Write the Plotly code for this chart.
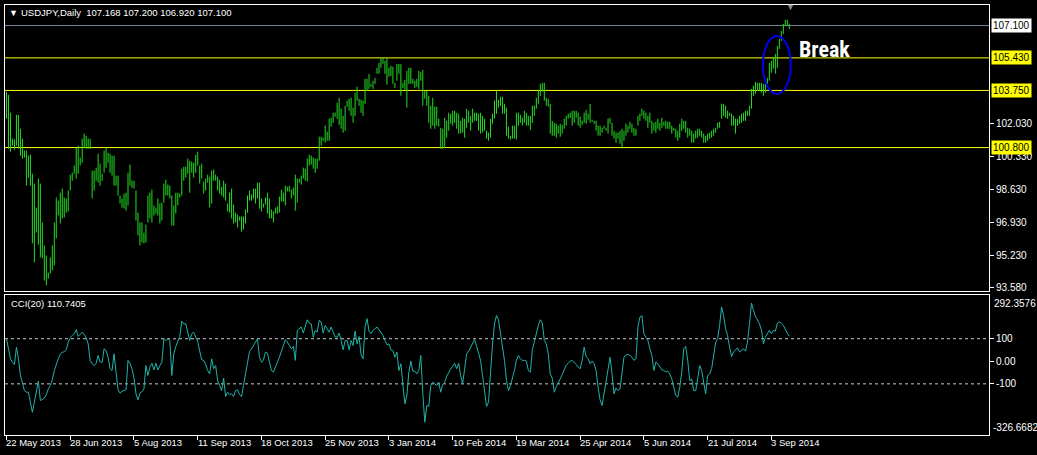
import plotly.graph_objects as go

# ---------------- data ----------------
high = [
103.68,103.52,102.60,101.26,101.21,102.49,102.49,101.77,101.26,100.64,
100.64,100.38,100.43,99.45,98.94,97.70,99.20,98.94,96.93,95.74,
95.23,94.35,95.13,95.74,96.93,98.22,98.06,98.47,98.68,98.22,
98.17,98.58,99.40,99.50,99.87,100.79,100.90,100.28,101.26,101.52,
101.41,101.26,101.26,99.61,99.61,99.76,100.48,99.97,99.45,100.64,
100.79,100.53,100.48,100.38,100.38,99.35,99.35,98.32,98.17,98.42,
98.47,99.50,99.92,99.09,99.09,98.58,97.44,96.93,96.93,96.41,
96.82,98.32,98.47,98.63,97.81,97.70,98.17,97.91,97.96,98.94,
99.14,98.89,98.83,98.32,97.81,98.47,98.47,98.42,99.71,99.81,
99.81,100.23,100.12,100.07,100.02,100.43,100.59,99.87,99.97,99.04,
99.20,99.40,99.30,99.61,99.66,99.40,99.30,99.14,98.78,99.09,
98.94,97.91,98.47,98.68,97.86,97.44,97.34,97.24,97.24,97.24,
97.60,98.32,98.58,98.37,98.68,98.68,98.99,98.99,98.17,97.91,
98.22,98.47,98.17,97.60,97.50,97.70,97.76,98.27,98.63,98.47,
98.83,98.78,98.83,98.63,98.73,99.40,99.20,99.20,99.35,99.76,
99.71,100.23,100.43,100.38,100.28,100.23,100.23,101.36,101.36,101.31,
101.93,101.62,102.29,102.34,102.60,102.60,103.11,103.37,102.81,102.44,
102.96,103.22,103.32,103.37,102.86,103.63,103.94,103.32,103.27,103.22,
104.35,104.35,104.61,104.09,104.25,104.40,104.92,105.17,105.43,105.43,
105.28,105.43,104.92,105.02,104.97,104.14,105.12,105.12,105.12,104.14,
104.30,104.76,104.92,104.92,104.35,104.25,104.35,104.76,104.71,104.81,
103.73,103.73,103.47,102.96,103.37,102.91,102.91,102.29,101.82,101.77,
102.34,102.18,102.60,102.55,102.70,102.70,102.60,102.55,102.18,102.34,
102.29,102.81,102.70,102.44,102.81,102.60,102.60,102.55,102.60,102.44,
102.29,101.67,101.57,102.29,102.55,103.22,103.73,103.27,103.42,103.42,
103.06,102.86,101.88,101.41,101.93,101.93,102.60,102.60,102.49,102.34,
102.70,102.60,102.44,102.44,102.96,102.96,103.37,103.73,104.09,104.14,
104.14,103.37,103.32,103.06,102.18,102.08,102.03,101.93,102.03,101.97,
102.29,102.44,102.55,102.60,102.70,102.70,102.70,102.60,102.39,102.18,
102.60,102.75,102.55,103.06,102.24,102.18,102.18,101.93,101.93,101.82,
101.93,101.82,102.29,102.34,102.08,101.67,101.57,101.57,101.67,101.77,
101.67,102.03,101.93,102.13,102.03,101.82,101.77,102.44,102.55,102.81,
102.70,102.60,102.44,102.60,102.18,102.08,102.13,102.29,102.08,102.34,
102.13,102.18,102.13,102.13,101.93,101.82,101.77,101.67,102.03,102.29,
102.18,102.18,101.82,101.77,101.67,101.52,101.67,101.77,101.77,101.67,
101.52,101.41,101.52,101.57,101.67,101.77,101.82,102.08,102.13,103.06,
103.06,102.96,102.70,102.60,102.55,102.44,102.29,102.29,102.44,102.55,
102.60,102.70,102.70,102.96,103.83,103.99,104.19,104.14,104.14,104.14,
104.09,104.09,104.40,105.17,105.28,105.43,105.64,106.05,106.41,106.82,
107.18,107.39,107.39,107.20,
]
low = [
102.29,100.74,100.59,100.90,100.69,100.90,100.74,100.38,100.23,100.28,
98.83,99.25,98.83,95.85,94.87,96.41,95.79,95.13,95.08,93.94,
93.68,94.04,94.30,94.46,94.71,96.11,97.29,96.88,97.14,97.19,
97.44,97.50,98.58,99.09,99.45,99.20,99.45,99.87,100.02,100.79,
100.74,100.74,100.74,98.17,98.58,99.09,98.99,98.83,99.09,99.50,
99.76,100.02,99.50,99.35,98.83,98.83,98.32,97.91,97.70,97.65,
97.55,97.81,98.83,98.73,98.68,97.03,96.26,95.74,95.90,95.85,
95.90,96.93,97.14,96.93,97.29,97.39,97.29,96.88,97.03,97.96,
98.32,98.32,98.17,96.77,96.77,97.39,97.81,98.22,98.32,99.09,
99.25,99.45,98.47,99.50,99.25,99.50,99.87,98.94,99.20,98.42,
98.58,98.99,97.70,97.91,99.09,99.09,98.58,98.42,98.32,98.22,
98.06,97.50,97.44,97.14,96.88,96.93,96.67,97.03,96.46,96.57,
96.88,97.44,98.06,98.06,98.17,97.91,98.17,97.65,97.50,97.70,
97.86,97.39,97.14,97.14,96.93,97.39,97.39,97.44,98.01,98.01,
97.81,98.53,98.53,98.17,98.32,97.55,97.96,98.99,98.89,99.20,
99.09,99.04,99.87,99.92,99.71,99.50,99.71,100.12,100.90,101.15,
101.05,101.15,101.15,101.88,102.08,102.39,102.29,101.97,101.77,101.57,
101.67,102.91,102.70,102.44,102.08,102.44,103.22,102.96,102.60,102.44,
103.06,103.73,103.83,103.94,103.83,104.09,104.61,104.61,104.92,105.12,
104.61,104.04,104.45,104.50,104.09,103.88,104.25,104.61,103.47,103.88,
103.78,102.86,104.09,104.09,104.09,103.88,103.94,103.83,104.25,102.96,
103.32,102.96,102.08,101.77,101.93,101.77,101.93,101.88,100.74,100.74,
100.79,101.31,101.67,102.03,101.93,102.08,101.77,101.52,101.52,101.57,
101.31,101.82,102.08,101.67,102.08,102.18,102.18,101.67,101.52,101.57,
101.67,101.26,101.15,101.31,102.03,102.29,102.55,102.86,102.96,102.55,
102.55,101.41,101.26,101.21,101.26,101.26,101.21,101.93,102.08,101.93,
102.08,101.93,101.93,101.72,102.08,102.44,102.81,103.06,103.47,103.68,
103.22,102.96,102.91,101.52,101.41,101.41,101.31,101.52,101.36,101.52,
101.77,101.93,102.29,102.34,101.93,102.08,102.34,101.93,101.82,101.97,
102.08,102.03,102.24,102.08,102.13,102.03,101.67,101.41,101.41,101.57,
101.77,101.67,101.52,102.03,101.41,101.26,101.05,101.26,101.00,100.74,
101.15,101.41,101.57,101.77,101.57,101.41,101.41,101.93,102.18,102.44,
102.29,102.18,101.82,102.08,101.52,101.67,101.57,101.77,101.67,101.82,
101.93,101.77,101.77,101.77,101.52,101.67,101.31,101.15,101.31,101.67,
101.77,101.57,101.31,101.41,101.05,101.05,101.26,101.31,101.41,101.31,
101.05,101.05,101.15,101.26,101.31,101.41,101.57,101.77,101.82,102.29,
102.44,102.34,102.29,102.44,101.93,101.93,101.52,101.93,102.03,102.08,
102.18,102.18,102.44,102.44,102.81,103.47,103.58,103.73,103.73,103.63,
103.47,103.63,104.09,104.25,104.66,104.87,104.61,104.92,105.89,106.31,
106.67,107.08,107.08,106.92,
]
cci = [
100,55,11,-4,-14,63,11,-63,-103,-130,
-137,-137,-181,-226,-181,-130,-88,-174,-167,-163,
-148,-122,-107,-82,-41,-11,11,30,41,41,
51,85,104,115,122,140,110,119,129,119,
104,77,4,-11,-19,-9,26,-4,-4,55,
48,18,-33,-41,33,-48,-126,-141,-133,-130,
-126,4,-9,-33,-74,-144,-171,-141,-134,-122,
-19,-63,-26,-9,-38,-9,-38,-19,-4,100,
92,100,92,-63,33,66,89,110,178,166,
166,122,92,122,129,107,89,45,7,4,
-14,-41,-56,11,-33,-19,-85,-107,-130,-74,
-156,-137,-148,-144,-156,-130,-126,-148,-156,-107,
-56,11,44,55,70,85,100,18,-4,4,
41,36,-4,-41,-48,-29,-4,18,48,73,
96,85,70,55,66,4,137,144,152,125,
159,184,169,166,107,137,129,181,174,125,
159,144,129,152,129,107,107,125,92,51,
92,92,51,92,70,134,77,110,30,11,
152,189,134,122,137,147,152,140,125,115,
92,73,77,51,48,18,41,-41,-11,-93,
-189,-152,-48,1,-44,-44,-56,-41,26,-144,
-270,-196,-200,-107,-93,-100,-107,-93,-137,-103,
-93,-67,-48,-33,-23,-9,-33,-9,-63,-100,
-33,33,45,63,80,96,66,33,4,-63,
-130,-200,-181,-41,77,166,203,184,122,63,
4,-85,-130,-107,-78,-41,4,26,11,4,
4,1,-41,-48,51,92,129,159,184,169,
92,77,33,-56,-75,-137,-112,-97,-78,-59,
-41,-17,-9,1,4,-4,-14,-26,-33,4,
63,21,11,-11,1,-11,-41,-115,-171,-196,
-144,-97,-41,18,-56,-144,-118,-130,-122,-63,
18,29,30,26,18,4,11,152,196,202,
122,107,92,55,26,-41,-4,-11,-26,-38,
-41,-47,-44,-56,-78,-115,-152,-159,-115,-48,
55,66,4,-85,-78,-130,-130,-78,-19,-41,
-93,-144,-63,-56,-33,33,82,100,159,241,
203,144,115,63,21,41,51,60,41,48,
55,45,85,166,258,226,199,184,166,140,
77,107,125,137,122,137,134,169,174,169,
159,140,125,110.74,
]

date_ticks = [0, 32, 64, 96, 128, 160, 192, 224, 256, 288, 320, 352, 384]
date_labels = ["22 May 2013", "28 Jun 2013", "5 Aug 2013", "11 Sep 2013",
               "18 Oct 2013", "25 Nov 2013", "3 Jan 2014", "10 Feb 2014",
               "19 Mar 2014", "25 Apr 2014", "5 Jun 2014", "21 Jul 2014",
               "3 Sep 2014"]
price_ticks = [102.03, 100.33, 98.63, 96.93, 95.23, 93.58]
price_range = [93.376, 108.161]
levels = [105.43, 103.75, 100.80]
last_price = 107.10
cci_levels = [100, -100]
cci_ticks = [100, 0, -100]
cci_tick_text = ["100", "0.00", "-100"]
cci_min, cci_max = -326.6682, 292.3576
header_symbol = "▼"
header_text = "USDJPY,Daily  107.168 107.200 106.920 107.100"
cci_text = "CCI(20) 110.7405"
break_text = "Break"
break_pos = (396.75, 105.87)
ellipse_box = (379.75, 393.75, 103.57, 106.56)

# ---------------- figure ----------------
n = len(high)
idx = list(range(n))
bx, by = [], []
for i, (h, l) in enumerate(zip(high, low)):
    bx += [i, i, None]
    by += [l, h, None]

BAR = "#22DD22"
FONT = "Tahoma, 'Liberation Sans', Arial, sans-serif"
fig = go.Figure()
fig.add_trace(go.Scatter(x=bx, y=by, mode="lines", line=dict(color=BAR, width=1),
                         xaxis="x", yaxis="y", hoverinfo="skip"))
fig.add_trace(go.Scatter(x=idx, y=cci, mode="lines", line=dict(color="#20B2AA", width=1),
                         xaxis="x2", yaxis="y2"))

xr = [-0.75, 493.25]
axis_common = dict(showgrid=False, zeroline=False, showline=True, mirror=True,
                   linecolor="white", linewidth=1)
fig.update_layout(
    width=1037, height=455,
    margin=dict(l=4, r=45, t=4, b=20),
    paper_bgcolor="black", plot_bgcolor="black",
    showlegend=False,
    font=dict(family=FONT, color="white", size=10),
    xaxis=dict(domain=[0, 1], range=xr, anchor="y", showticklabels=False, ticks="",
               **axis_common),
    xaxis2=dict(domain=[0, 1], range=xr, anchor="y2", showticklabels=False,
                tickvals=date_ticks, ticks="outside", ticklen=4, tickcolor="white",
                **axis_common),
    yaxis=dict(domain=[0.33411, 1], range=price_range, side="right", anchor="x",
               tickvals=price_ticks, ticktext=[f"{v:.3f}" for v in price_ticks],
               ticks="outside", ticklen=4, tickcolor="white",
               tickfont=dict(family=FONT, color="white", size=10), **axis_common),
    yaxis2=dict(domain=[0, 0.32483], range=[cci_min, cci_max], side="right", anchor="x2",
                tickvals=cci_ticks, ticktext=cci_tick_text,
                ticks="outside", ticklen=4, tickcolor="white",
                tickfont=dict(family=FONT, color="white", size=10), **axis_common),
)

shapes = []
for lv in levels:
    shapes.append(dict(type="line", xref="paper", x0=0, x1=1, yref="y", y0=lv, y1=lv,
                       line=dict(color="#FFFF00", width=1), layer="below"))
shapes.append(dict(type="line", xref="paper", x0=0, x1=1, yref="y", y0=last_price,
                   y1=last_price, line=dict(color="#778899", width=1), layer="below"))
for lv in cci_levels:
    shapes.append(dict(type="line", xref="paper", x0=0, x1=1, yref="y2", y0=lv, y1=lv,
                       line=dict(color="#C8C8C8", width=1, dash="3px,3px"), layer="below"))
x0e, x1e, y0e, y1e = ellipse_box
shapes.append(dict(type="circle", xref="x", yref="y", x0=x0e, x1=x1e, y0=y0e, y1=y1e,
                   line=dict(color="#0000F0", width=2)))
fig.update_layout(shapes=shapes)

ann = []
for lv in levels:
    ann.append(dict(xref="paper", x=1, xanchor="left", xshift=2, yref="y", y=lv,
                    yanchor="middle", text=f"{lv:.3f}", showarrow=False,
                    bgcolor="#FFFF00", borderpad=1,
                    font=dict(family=FONT, color="black", size=10)))
ann.append(dict(xref="paper", x=1, xanchor="left", xshift=2, yref="y", y=last_price,
                yanchor="middle", text=f"{last_price:.3f}", showarrow=False,
                bgcolor="white", borderpad=1,
                font=dict(family=FONT, color="black", size=10)))
ann.append(dict(xref="paper", x=1, xanchor="left", xshift=3, yref="y2", y=cci_max,
                yanchor="top", yshift=-1, text=f"{cci_max:.4f}", showarrow=False,
                font=dict(family=FONT, color="white", size=10)))
ann.append(dict(xref="paper", x=1, xanchor="left", xshift=2, yref="y2", y=cci_min,
                yanchor="bottom", yshift=0, text=f"{cci_min:.4f}", showarrow=False,
                font=dict(family=FONT, color="white", size=10)))
for t, lab in zip(date_ticks, date_labels):
    ann.append(dict(xref="x2", x=t, xanchor="left", xshift=-2, yref="paper", y=-0.0186,
                    yanchor="middle", text=lab, showarrow=False,
                    font=dict(family=FONT, color="white", size=9.5)))
ann.append(dict(xref="paper", x=0.0035, xanchor="left", xshift=-1, yref="paper", y=0.9814,
                yanchor="middle", text=header_symbol, showarrow=False,
                font=dict(family=FONT, color="white", size=9)))
ann.append(dict(xref="paper", x=0.0155, xanchor="left", xshift=-1, yref="paper", y=0.9814,
                yanchor="middle", text=header_text, showarrow=False,
                font=dict(family=FONT, color="white", size=9.5)))
ann.append(dict(xref="paper", x=0.004, xanchor="left", yref="paper", y=0.3063,
                yanchor="middle", text=cci_text, showarrow=False,
                font=dict(family=FONT, color="white", size=9.5)))
ann.append(dict(xref="x", x=break_pos[0], xanchor="left", yref="y", y=break_pos[1],
                yanchor="middle", text=f"<b>{break_text}</b>", showarrow=False,
                font=dict(family="'Liberation Sans Narrow', 'Roboto Condensed', Roboto, Arial",
                          color="white", size=22)))
ann.append(dict(xref="paper", x=0.7986, xanchor="center", yref="paper", y=0.9954,
                yanchor="middle", text="▼", showarrow=False,
                font=dict(family=FONT, color="#909090", size=9)))
fig.update_layout(annotations=ann)

fig.write_html("out.html",
               config={"displayModeBar": False, "staticPlot": True},
               post_script="document.body.style.margin='0px';"
                           "document.body.style.overflow='hidden';"
                           "document.body.style.background='black';")
